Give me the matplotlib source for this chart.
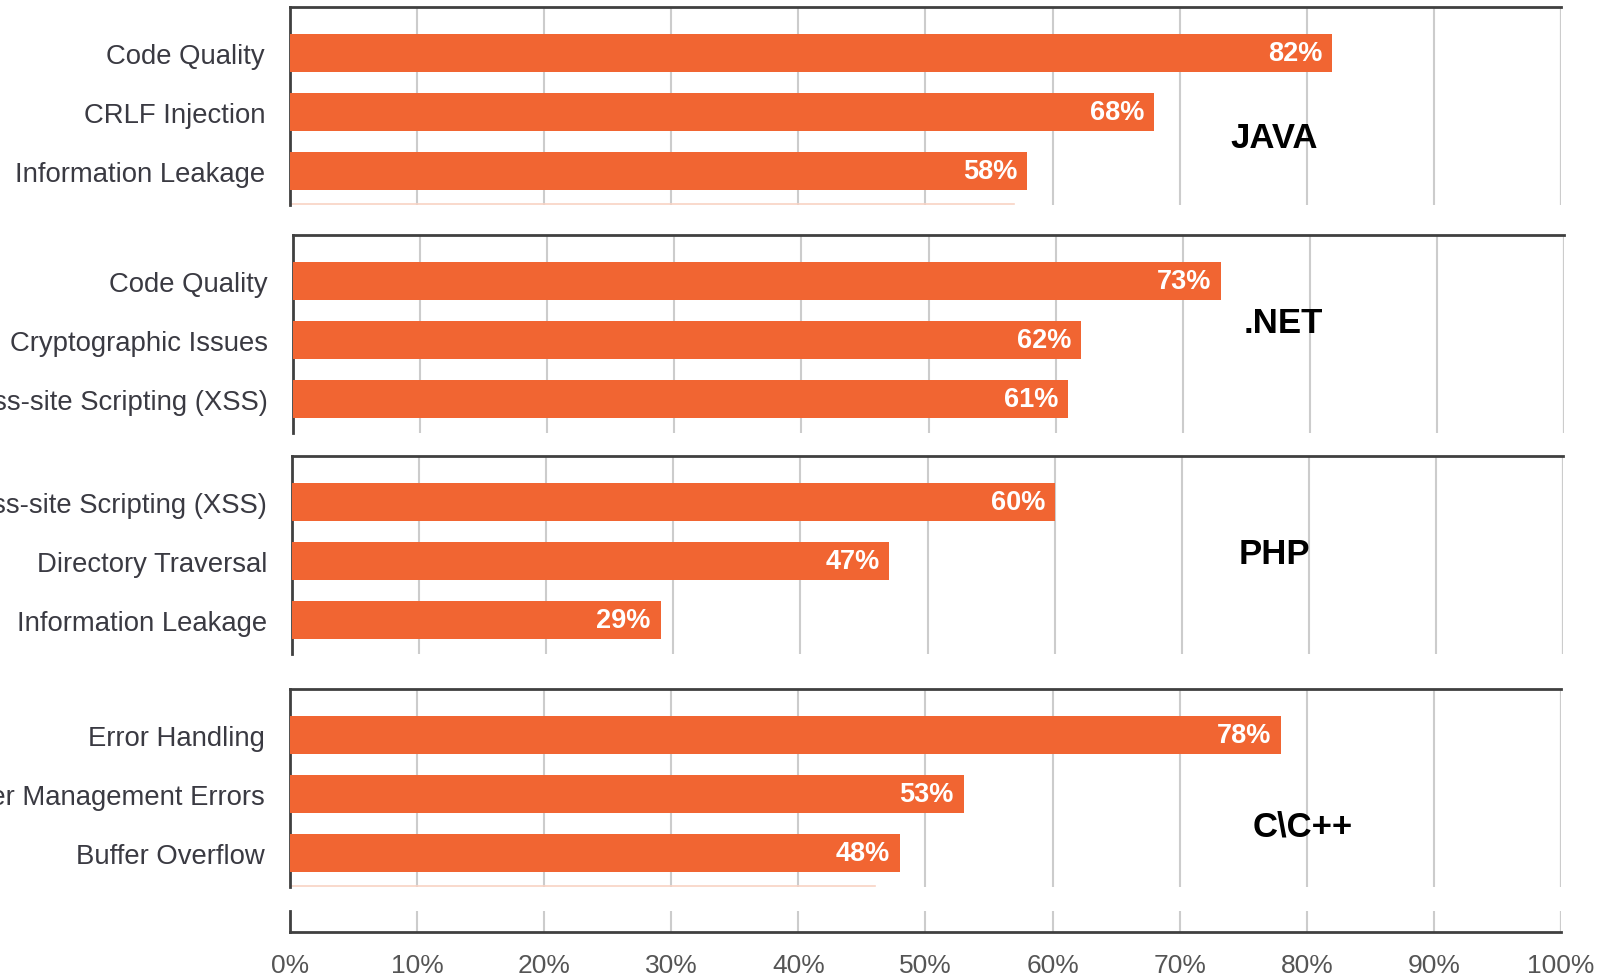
import matplotlib
matplotlib.use("Agg")
import matplotlib.pyplot as plt

plt.rcParams['font.family'] = ['Liberation Sans', 'DejaVu Sans']

# top three flaw categories per language, % of applications affected
languages = ["JAVA", ".NET", "PHP", "C\\C++"]

java_cats = ["Code Quality", "CRLF Injection", "Information Leakage"]
java_vals = [82, 68, 58]

net_cats = ["Code Quality", "Cryptographic Issues", "Cross-site Scripting (XSS)"]
net_vals = [73, 62, 61]

php_cats = ["Cross-site Scripting (XSS)", "Directory Traversal", "Information Leakage"]
php_vals = [60, 47, 29]

cpp_cats = ["Error Handling", "Buffer Management Errors", "Buffer Overflow"]
cpp_vals = [78, 53, 48]

# edge of the next (cut off) bar showing along the panel bottom
cut_vals = [57, None, None, 46]

ticks = list(range(0, 101, 10))
tick_labels = [f"{t}%" for t in ticks]

BAR = "#F16532"
SPINE = "#404040"
GRID = "#CCCCCC"
LABEL = "#3A3A42"

W, H = 1616, 979
fig = plt.figure(figsize=(W / 100, H / 100), dpi=100)

panels = [
    (languages[0], java_cats, java_vals),
    (languages[1], net_cats, net_vals),
    (languages[2], php_cats, php_vals),
    (languages[3], cpp_cats, cpp_vals),
]
# pixel layout: left edge, top edge of each panel
lefts = [290, 293, 292, 290]
tops = [8, 236, 457, 690]
name_pos = [(77.4, 1.44), (77.9, 0.7), (77.3, 0.88), (79.7, 1.54)]

pitch = 59.0
y_top, y_bot = -0.78, 2.58
panel_h = (y_bot - y_top) * pitch
panel_w = 1271

for k, (name, cats, vals) in enumerate(panels):
    ax = fig.add_axes([lefts[k] / W, 1 - (tops[k] + panel_h) / H, panel_w / W, panel_h / H])
    pos = list(range(len(cats)))
    ax.barh(pos, vals, height=0.66, color=BAR, zorder=3)
    for p, v in zip(pos, vals):
        ax.annotate(f"{v}%", (v, p), xytext=(-7, 0), textcoords="offset points",
                    ha="right", va="center", color="white", fontsize=19.5,
                    fontweight="bold", zorder=4)
    if cut_vals[k] is not None:
        ax.plot([0, cut_vals[k]], [y_bot - 0.02, y_bot - 0.02], color="#F8D3C4",
                lw=1.2, zorder=2, clip_on=False)
    ax.set_xlim(0, 100)
    ax.set_ylim(y_bot, y_top)
    ax.set_yticks(pos)
    ax.set_yticklabels(cats, fontsize=19.8, color=LABEL)
    ax.set_xticks(ticks)
    ax.tick_params(axis="y", length=0, pad=18)
    ax.tick_params(axis="x", length=0, labelbottom=False)
    ax.grid(axis="x", color=GRID, lw=1.5, zorder=0)
    ax.axvline(100, color=GRID, lw=1.5, zorder=0)
    for s in ["right", "bottom"]:
        ax.spines[s].set_visible(False)
    for s in ["left", "top"]:
        ax.spines[s].set_color(SPINE)
        ax.spines[s].set_linewidth(2)
    ax.text(name_pos[k][0], name_pos[k][1], name, ha="center", va="center",
            fontsize=25, fontweight="bold", color="black", zorder=5)

# shared percentage axis along the bottom
axx = fig.add_axes([290 / W, 1 - 933 / H, panel_w / W, 21 / H])
axx.set_xlim(0, 100)
axx.set_ylim(0, 1)
axx.set_xticks(ticks)
axx.set_xticklabels(tick_labels, fontsize=19, color="#555555")
axx.set_yticks([])
axx.tick_params(axis="x", length=0, pad=15)
axx.grid(axis="x", color=GRID, lw=1.5, zorder=0)
axx.axvline(100, color=GRID, lw=1.5, zorder=0)
for s in ["right", "top"]:
    axx.spines[s].set_visible(False)
for s in ["left", "bottom"]:
    axx.spines[s].set_color(SPINE)
    axx.spines[s].set_linewidth(2)

fig.savefig("out.png", dpi=100, facecolor="white")
